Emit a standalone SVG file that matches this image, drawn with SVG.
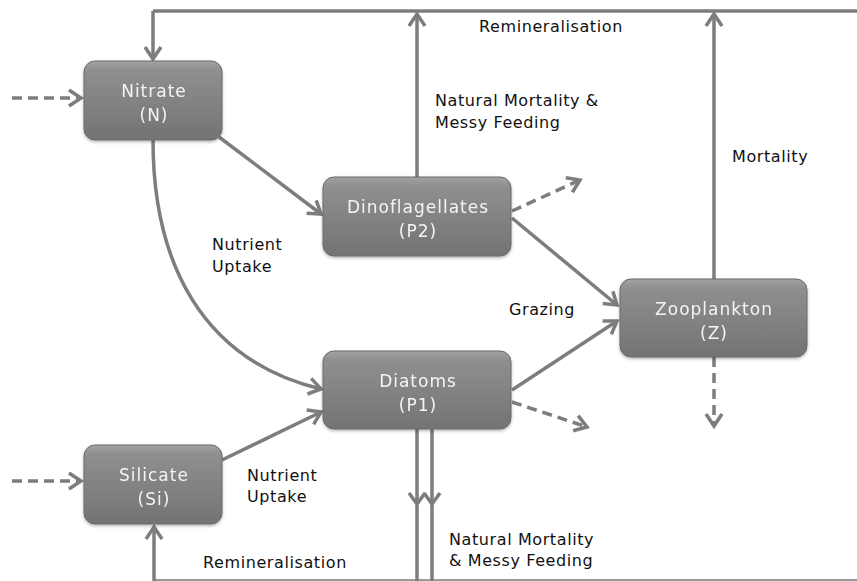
<svg xmlns="http://www.w3.org/2000/svg" width="857" height="581" viewBox="0 0 857 581">
<style>
.ln{fill:none;stroke:#7d7d7d;stroke-width:3.5}
.arr{marker-end:url(#ah)}
.dash{stroke-dasharray:10 6}
.box{fill:url(#g);stroke:#6a6a6a;stroke-width:1}
.nt{font-family:"DejaVu Sans",sans-serif;font-size:17px;letter-spacing:1px;fill:#f4f4f4;text-anchor:middle}
.lb{font-family:"DejaVu Sans",sans-serif;font-size:16px;letter-spacing:0.6px;fill:#111}
</style>
<defs>
<linearGradient id="g" x1="0" y1="0" x2="0" y2="1">
<stop offset="0" stop-color="#a2a2a2"/>
<stop offset="0.12" stop-color="#8f8f8f"/>
<stop offset="1" stop-color="#737373"/>
</linearGradient>
<filter id="sh" x="-10%" y="-10%" width="120%" height="130%">
<feDropShadow dx="0" dy="1.5" stdDeviation="1.5" flood-color="#000" flood-opacity="0.3"/>
</filter>
<marker id="ah" markerUnits="userSpaceOnUse" markerWidth="20" markerHeight="20" viewBox="-15 -10 17 20" refX="0" refY="0" orient="auto">
<path d="M-12,-8 L0,0 L-12,8" fill="none" stroke="#7d7d7d" stroke-width="3.5" stroke-linejoin="miter"/>
</marker>
</defs>
<g id="connectors">
<path class="ln" d="M153,11 H857"/>
<path class="ln arr" d="M153,11 V59"/>
<path class="ln arr" d="M417,177 V14"/>
<path class="ln arr" d="M714,279 V14"/>
<path class="ln" d="M154,580 H857" style="stroke-width:2;stroke:#9a9a9a"/>
<path class="ln arr" d="M154,581 V527"/>
<path class="ln" d="M417,429 V581"/>
<path class="ln" d="M432,429 V581"/>
<path class="ln" d="M409,493 L417,504 L425,493"/>
<path class="ln" d="M424,493 L432,504 L440,493"/>
<path class="ln arr dash" d="M12,98 H81"/>
<path class="ln arr dash" d="M12,481 H81"/>
<path class="ln arr" d="M219,137 L321,214"/>
<path class="ln arr" d="M153,140 C153,260 200,360 321,389"/>
<path class="ln arr" d="M222,460 L321,412"/>
<path class="ln arr" d="M512,218 L617,305"/>
<path class="ln arr" d="M512,390 L617,321"/>
<path class="ln arr dash" d="M512,211 L580,180"/>
<path class="ln arr dash" d="M512,402 L587,427"/>
<path class="ln arr dash" d="M714,357 V426"/>
</g>
<g id="nitrate" filter="url(#sh)">
<rect class="box" x="84" y="61" width="138" height="79" rx="11"/>
<text class="nt" x="154" y="97">Nitrate</text>
<text class="nt" x="154" y="121">(N)</text>
</g>
<g id="dinoflagellates" filter="url(#sh)">
<rect class="box" x="323" y="177" width="188" height="79" rx="11"/>
<text class="nt" x="418" y="213">Dinoflagellates</text>
<text class="nt" x="418" y="237">(P2)</text>
</g>
<g id="diatoms" filter="url(#sh)">
<rect class="box" x="323" y="351" width="188" height="78" rx="11"/>
<text class="nt" x="418" y="387">Diatoms</text>
<text class="nt" x="418" y="411">(P1)</text>
</g>
<g id="zooplankton" filter="url(#sh)">
<rect class="box" x="620" y="279" width="187" height="78" rx="11"/>
<text class="nt" x="714" y="315">Zooplankton</text>
<text class="nt" x="714" y="339">(Z)</text>
</g>
<g id="silicate" filter="url(#sh)">
<rect class="box" x="84" y="445" width="138" height="79" rx="11"/>
<text class="nt" x="154" y="481">Silicate</text>
<text class="nt" x="154" y="505">(Si)</text>
</g>
<g id="labels">
<text class="lb" x="479" y="32">Remineralisation</text>
<text class="lb" x="435" y="106">Natural Mortality &amp;</text>
<text class="lb" x="435" y="128">Messy Feeding</text>
<text class="lb" x="732" y="162">Mortality</text>
<text class="lb" x="212" y="250">Nutrient</text>
<text class="lb" x="212" y="272">Uptake</text>
<text class="lb" x="509" y="315">Grazing</text>
<text class="lb" x="247" y="481">Nutrient</text>
<text class="lb" x="247" y="502">Uptake</text>
<text class="lb" x="203" y="568">Remineralisation</text>
<text class="lb" x="449" y="545">Natural Mortality</text>
<text class="lb" x="449" y="566">&amp; Messy Feeding</text>
</g>
</svg>
